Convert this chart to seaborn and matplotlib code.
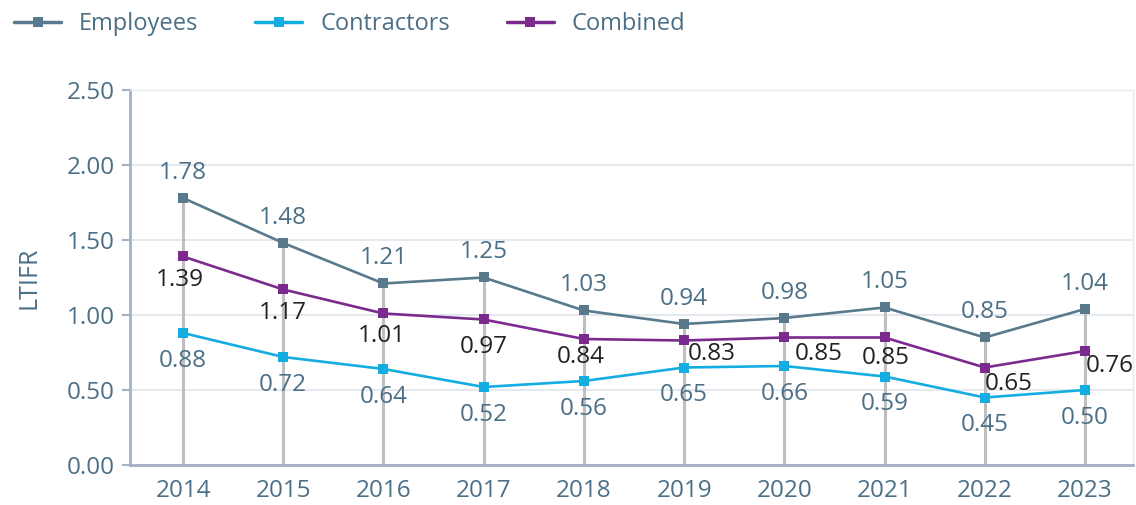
import pandas as pd
import seaborn as sns
import matplotlib.pyplot as plt

# LTIFR by year
years = [2014, 2015, 2016, 2017, 2018, 2019, 2020, 2021, 2022, 2023]
employees = [1.78, 1.48, 1.21, 1.25, 1.03, 0.94, 0.98, 1.05, 0.85, 1.04]
contractors = [0.88, 0.72, 0.64, 0.52, 0.56, 0.65, 0.66, 0.59, 0.45, 0.50]
combined = [1.39, 1.17, 1.01, 0.97, 0.84, 0.83, 0.85, 0.85, 0.65, 0.76]
series_names = ['Employees', 'Contractors', 'Combined']

# label offsets for the combined series (points), to keep labels apart
comb_offsets = [(-2, -17), (0, -17), (-1, -16), (0, -20), (-2, -13),
                (20, -10), (25, -12), (1, -15), (17, -12), (18, -11)]

sns.set_theme(style='white')
plt.rcParams['font.family'] = ['Open Sans', 'DejaVu Sans']

slate = '#4b6f86'
colors = {'Employees': '#587a8c', 'Contractors': '#14ade2', 'Combined': '#7b2a8e'}

df = pd.DataFrame({'Year': years * 3,
                   'LTIFR': employees + contractors + combined,
                   'Series': [s for s in series_names for _ in years]})

fig = plt.figure(figsize=(11.36, 5.05), dpi=100)
ax = fig.add_axes([0.1144, 0.0792, 0.883, 0.7426])

# grey drop lines from zero to the employee value
ax.vlines(years, 0, employees, color='#bfbfbf', lw=2.2, zorder=1)

sns.lineplot(data=df, x='Year', y='LTIFR', hue='Series', palette=colors,
             marker='s', markersize=7, markeredgewidth=0, linewidth=1.9,
             ax=ax, legend=False, zorder=3)

# value labels
for x, v in zip(years, employees):
    ax.annotate(f'{v:.2f}', (x, v), xytext=(0, 18), textcoords='offset points',
                ha='center', va='center', fontsize=17.5, color=slate)
for x, v in zip(years, contractors):
    ax.annotate(f'{v:.2f}', (x, v), xytext=(0, -20), textcoords='offset points',
                ha='center', va='center', fontsize=17.5, color=slate)
for x, v, off in zip(years, combined, comb_offsets):
    ax.annotate(f'{v:.2f}', (x, v), xytext=off, textcoords='offset points',
                ha='center', va='center', fontsize=17.5, color='#222222',
                annotation_clip=False)

ax.set_xlim(2013.47, 2023.48)
ax.set_ylim(0, 2.5)
ax.set_xticks(years)
ax.set_yticks([0, 0.5, 1.0, 1.5, 2.0, 2.5])
ax.set_yticklabels([f'{t:.2f}' for t in [0, 0.5, 1.0, 1.5, 2.0, 2.5]])
ax.yaxis.grid(True, color='#dfe4ec', lw=1.2)
ax.set_axisbelow(True)
ax.tick_params(axis='y', length=6, width=1.5, color='#a3b1c2', labelsize=17.5,
               labelcolor=slate, pad=5, left=True)
ax.tick_params(axis='x', length=0, labelsize=17.5, labelcolor=slate, pad=10)
ax.set_xlabel('')
ax.set_ylabel('LTIFR', fontsize=18, color=slate, labelpad=18)

for side in ['top', 'right']:
    ax.spines[side].set_color('#e6ebf1')
    ax.spines[side].set_linewidth(1)
ax.spines['left'].set_color('#a3b1c2')
ax.spines['left'].set_linewidth(2)
ax.spines['bottom'].set_color('#a3b1c2')
ax.spines['bottom'].set_linewidth(2)

handles = [plt.Line2D([], [], color=colors[s], marker='s', markersize=7.5,
                      markeredgewidth=0, lw=2.5) for s in series_names]
fig.legend(handles, series_names, loc='upper left', bbox_to_anchor=(-0.002, 1.008),
           ncol=3, frameon=False, fontsize=17, labelcolor=slate,
           handlelength=2.0, handletextpad=0.75, columnspacing=2.4,
           borderaxespad=0.3)

fig.savefig('out.png', dpi=100)
